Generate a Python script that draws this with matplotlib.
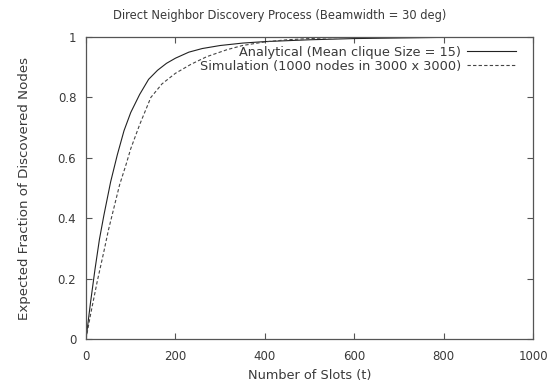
import matplotlib
matplotlib.use("Agg")
import matplotlib.pyplot as plt

plt.rcParams['font.family'] = ['DejaVu Sans']

# Analytical curve (mean clique size = 15)
t_analytical = [0, 5, 10, 20, 30, 40, 55, 70, 85, 100, 120, 140, 160, 180, 200, 230, 260,
                300, 350, 400, 450, 500, 600, 700, 800, 1000]
y_analytical = [0, 0.06, 0.12, 0.23, 0.33, 0.41, 0.52, 0.61, 0.69, 0.75, 0.81, 0.86, 0.89,
                0.913, 0.93, 0.95, 0.962, 0.972, 0.98, 0.985, 0.988, 0.991, 0.995, 0.997, 0.999, 1.0]

# Simulation curve (1000 nodes in 3000 x 3000)
t_simulation = [0, 5, 10, 25, 40, 50, 60, 75, 90, 100, 120, 145, 170, 200, 235, 270, 315,
                350, 400, 450, 500, 550, 600, 800, 1000]
y_simulation = [0, 0.04, 0.08, 0.19, 0.29, 0.36, 0.42, 0.51, 0.58, 0.63, 0.71, 0.80, 0.845,
                0.88, 0.91, 0.935, 0.958, 0.972, 0.984, 0.991, 0.995, 0.998, 0.999, 1.0, 1.0]

x_ticks = [0, 200, 400, 600, 800, 1000]
y_ticks = [0, 0.2, 0.4, 0.6, 0.8, 1]
y_ticklabels = ['0', '0.2', '0.4', '0.6', '0.8', '1']

title = "Direct Neighbor Discovery Process (Beamwidth = 30 deg)"
xlabel = "Number of Slots (t)"
ylabel = "Expected Fraction of Discovered Nodes"
label_analytical = "Analytical (Mean clique Size = 15)"
label_simulation = "Simulation (1000 nodes in 3000 x 3000)"

fig = plt.figure(figsize=(5.6, 3.86), dpi=100)
ax = fig.add_axes([0.1536, 0.1218, 0.7984, 0.7822])

txt_color = '#3a3a3a'
ax.plot(t_analytical, y_analytical, color='#222222', lw=0.8, label=label_analytical)
ax.plot(t_simulation, y_simulation, color='#444444', lw=0.8, linestyle=(0, (3, 2)),
        label=label_simulation)

ax.set_xlim(0, 1000)
ax.set_ylim(0, 1)
ax.set_xticks(x_ticks)
ax.set_xticklabels([str(v) for v in x_ticks])
ax.set_yticks(y_ticks)
ax.set_yticklabels(y_ticklabels)
ax.tick_params(direction='in', length=4, width=0.8, top=True, right=True,
               labelsize=8.5, labelcolor=txt_color, color='#555555')
ax.tick_params(axis='x', pad=8)
ax.tick_params(axis='y', pad=7)
for s in ax.spines.values():
    s.set_color('#555555')
    s.set_linewidth(0.9)

fig.text(0.5, 1 - 15 / 386, title, fontsize=8.3, color=txt_color, ha='center', va='center')
ax.set_xlabel(xlabel, fontsize=9.3, color=txt_color, labelpad=4)
ax.set_ylabel(ylabel, fontsize=9.6, color=txt_color)
ax.yaxis.label.set_va('center')
ax.yaxis.set_label_coords(-0.137, 0.5)

leg = ax.legend(loc='upper right', markerfirst=False, frameon=False, fontsize=9.3,
                handlelength=3.8, handletextpad=0.45, labelspacing=0.1,
                borderaxespad=0.0, borderpad=0.0, bbox_to_anchor=(0.962, 0.972))
for t in leg.get_texts():
    t.set_color(txt_color)
    t.set_ha('right')

fig.savefig("out.png", dpi=100)
